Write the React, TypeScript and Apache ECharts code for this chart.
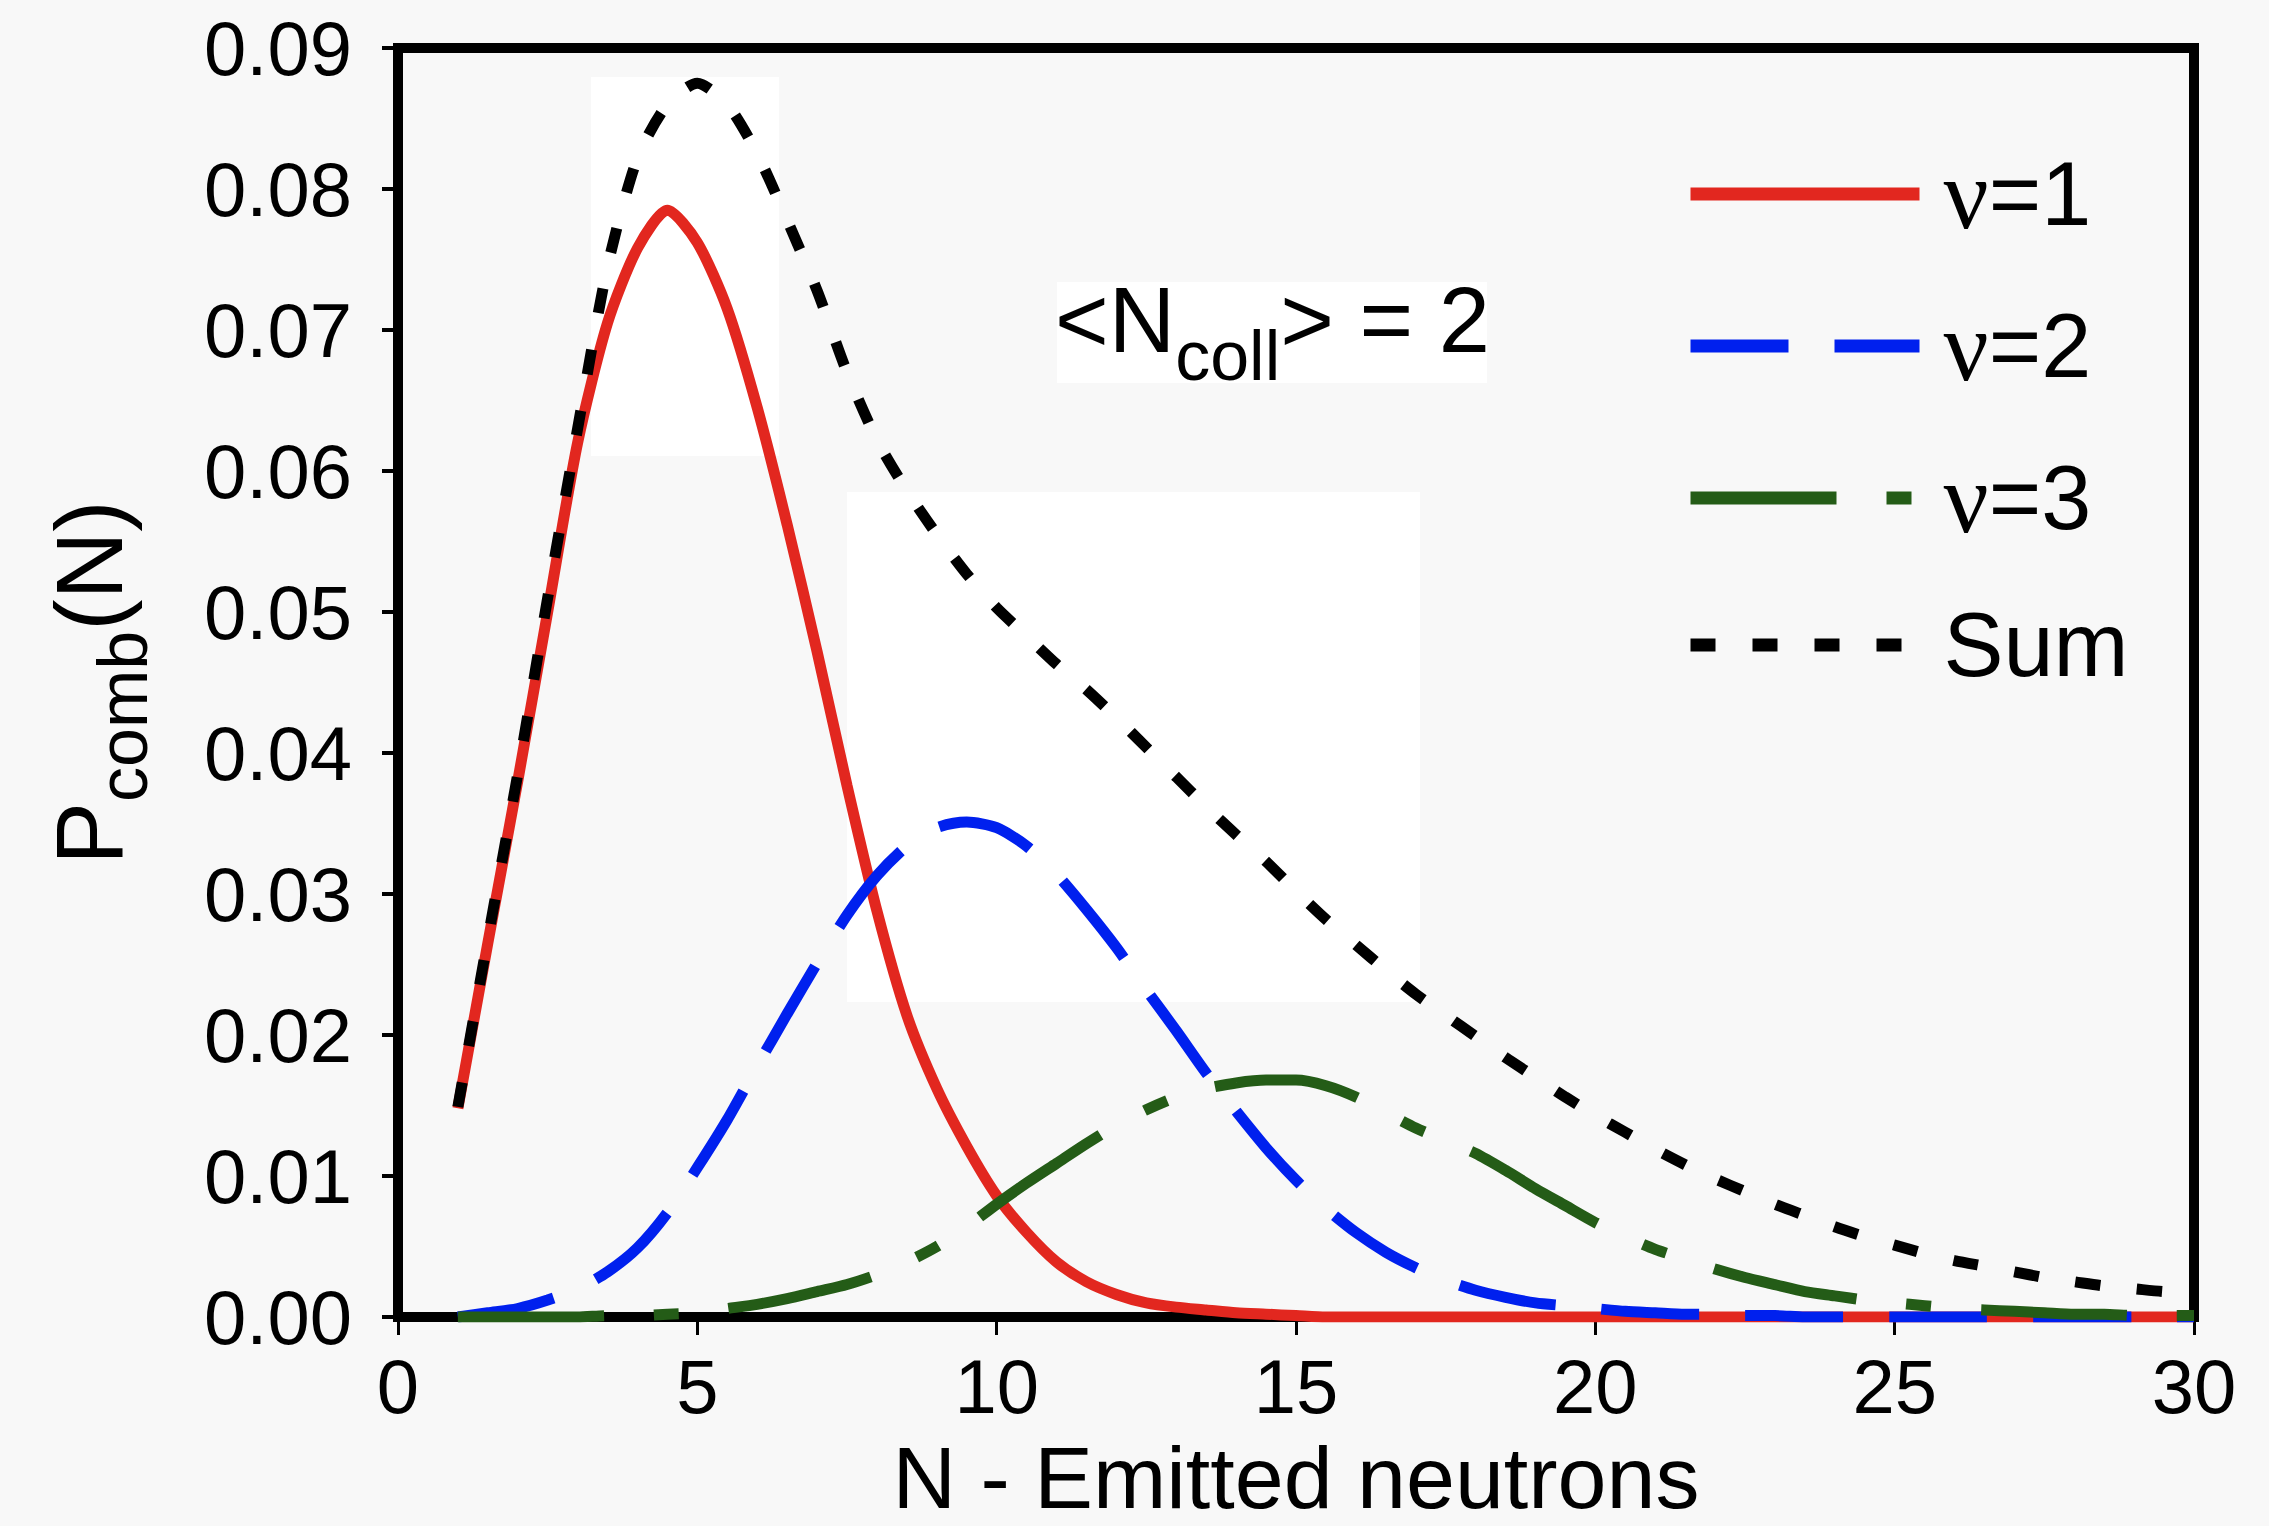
import React, { useEffect, useRef } from 'react';
import * as echarts from 'echarts';

const FONT = '"Liberation Sans", Arial, Helvetica, sans-serif';

// Number of emitted neutrons N
const nValues = [
  1, 1.5, 2, 2.5, 3, 3.5, 4, 4.5, 5, 5.5, 6, 6.5, 7, 7.5, 8, 8.5, 9, 9.5, 10, 10.5,
  11, 11.5, 12, 12.5, 13, 13.5, 14, 14.5, 15, 15.5, 16, 16.5, 17, 17.5, 18, 18.5, 19, 19.5, 20, 20.5,
  21, 21.5, 22, 22.5, 23, 23.5, 24, 24.5, 25, 25.5, 26, 26.5, 27, 27.5, 28, 28.5, 29, 29.5, 30,
];

// nu = 1
const nu1 = [
  0.0148, 0.0265, 0.038, 0.05, 0.062, 0.0705, 0.0758, 0.0785, 0.0762, 0.0715, 0.0645, 0.0562, 0.0472, 0.0377, 0.0288, 0.0214, 0.0162, 0.0121, 0.0086, 0.006,
  0.0039, 0.0025, 0.0016, 0.001, 0.0007, 0.0005, 0.0003, 0.0002, 0.0001, 0, 0, 0, 0, 0, 0, 0, 0, 0, 0, 0,
  0, 0, 0, 0, 0, 0, 0, 0, 0, 0, 0, 0, 0, 0, 0, 0, 0, 0, 0,
];

// nu = 2
const nu2 = [
  0.0, 0.0003, 0.0006, 0.0012, 0.002, 0.0032, 0.0049, 0.0074, 0.0106, 0.014, 0.0178, 0.0215, 0.0251, 0.0285, 0.0313, 0.0334, 0.0347, 0.0351, 0.0347, 0.0334,
  0.0314, 0.0289, 0.0262, 0.0232, 0.0203, 0.0173, 0.0146, 0.012, 0.0097, 0.0077, 0.006, 0.0046, 0.0035, 0.0026, 0.0019, 0.0014, 0.001, 0.0008, 0.0006, 0.0004,
  0.0003, 0.0002, 0.0002, 0.0001, 0.0001, 0, 0, 0, 0, 0, 0, 0, 0, 0, 0, 0, 0, 0, 0,
];

// nu = 3
const nu3 = [
  0, 0, 0, 0, 0, 0.0001, 0.0001, 0.0002, 0.0003, 0.0006, 0.0009, 0.0013, 0.0018, 0.0023, 0.003, 0.0039, 0.005, 0.0064, 0.008, 0.0095,
  0.0109, 0.0123, 0.0136, 0.0147, 0.0156, 0.0162, 0.0166, 0.0168, 0.0168, 0.0164, 0.0156, 0.0145, 0.0134, 0.0125, 0.0116, 0.0104, 0.0091, 0.0079, 0.0067, 0.0057,
  0.0048, 0.0041, 0.0034, 0.0028, 0.0023, 0.0018, 0.0015, 0.0012, 0.001, 0.0008, 0.0006, 0.0005, 0.0004, 0.0003, 0.0002, 0.0002, 0.0001, 0.0001, 0.0001,
];

// Sum
const sumValues = [
  0.0149, 0.0268, 0.0385, 0.051, 0.063, 0.0745, 0.0822, 0.086, 0.0875, 0.086, 0.0825, 0.0778, 0.0728, 0.067, 0.0622, 0.0586, 0.0555, 0.0527, 0.0503, 0.0483,
  0.0463, 0.0445, 0.0425, 0.0404, 0.0383, 0.0362, 0.0342, 0.0323, 0.0302, 0.0282, 0.0264, 0.0246, 0.0229, 0.0214, 0.0199, 0.0184, 0.017, 0.0156, 0.0143, 0.0131,
  0.0119, 0.0108, 0.0098, 0.0089, 0.008, 0.0072, 0.0064, 0.0057, 0.0051, 0.0045, 0.004, 0.0036, 0.0032, 0.0028, 0.0025, 0.0022, 0.002, 0.0018, 0.0017,
];

const seriesNames = ['ν=1', 'ν=2', 'ν=3', 'Sum'];
const seriesColors = ['#e2271f', '#0020ee', '#245c17', '#000000'];
const seriesDashes: (number[] | 'solid')[] = ['solid', [98, 46], [146, 50, 25, 50], [25, 37]];
const seriesData = [nu1, nu2, nu3, sumValues];

const xTicks = { min: 0, max: 30, interval: 5 };
const yTicks = { min: 0, max: 0.09, interval: 0.01 };

export default function App() {
  const ref = useRef<HTMLDivElement>(null);

  useEffect(() => {
    document.body.style.margin = '0';
    const chart = echarts.init(ref.current!, null, { renderer: 'svg' });

    const series = seriesData.map((vals, i) => ({
      name: seriesNames[i],
      type: 'line',
      data: nValues.map((n, k) => [n, vals[k]]),
      symbol: 'none',
      smooth: 0.25,
      z: 3 + i,
      lineStyle: {
        color: seriesColors[i],
        width: 11,
        type: seriesDashes[i],
        cap: 'butt',
      },
      itemStyle: { color: seriesColors[i] },
    }));

    const option: any = {
      animation: false,
      backgroundColor: '#f8f8f8',
      grid: {
        left: 398,
        right: 75,
        top: 48,
        bottom: 209,
        show: true,
        borderColor: '#000',
        borderWidth: 10,
        backgroundColor: 'transparent',
        containLabel: false,
        outerBoundsMode: 'none',
      },
      legend: {
        orient: 'vertical',
        left: 1684,
        top: 144,
        padding: 0,
        itemWidth: 229,
        itemHeight: 14,
        itemGap: 52,
        selectedMode: false,
        data: seriesNames,
        lineStyle: { width: 13 },
        itemStyle: { opacity: 0 },
        formatter: (name: string) =>
          name.startsWith('ν') ? '{sp|}{g|ν}' + name.slice(1) : '{sp|}' + name,
        textStyle: {
          fontSize: 90,
          fontFamily: FONT,
          color: '#000',
          rich: {
            sp: { width: 19 },
            g: { fontFamily: '"Liberation Serif", "DejaVu Serif", serif', fontSize: 100, color: '#000' },
          },
        },
      },
      xAxis: {
        type: 'value',
        ...xTicks,
        axisLine: { show: true, onZero: false, lineStyle: { color: '#000', width: 10 } },
        axisTick: { show: true, inside: false, length: 18, lineStyle: { color: '#000', width: 3 } },
        axisLabel: { fontSize: 76, color: '#000', fontFamily: FONT, margin: 31 },
        splitLine: { show: false },
        name: 'N - Emitted neutrons',
        nameLocation: 'middle',
        nameGap: 116,
        nameMoveOverlap: false,
        nameTextStyle: { fontSize: 88, color: '#000', fontFamily: FONT },
      },
      yAxis: {
        type: 'value',
        ...yTicks,
        axisLine: { show: true, onZero: false, lineStyle: { color: '#000', width: 10 } },
        axisTick: { show: true, inside: false, length: 16, lineStyle: { color: '#000', width: 4 } },
        axisLabel: {
          fontSize: 76,
          color: '#000',
          fontFamily: FONT,
          margin: 46,
          formatter: (v: number) => v.toFixed(2),
        },
        splitLine: { show: false },
        name: '{m|P}{s|comb}{m|(N)}',
        nameLocation: 'middle',
        nameRotate: 90,
        nameGap: 262,
        nameMoveOverlap: false,
        nameTextStyle: {
          fontSize: 94,
          color: '#000',
          fontFamily: FONT,
          rich: {
            m: { fontSize: 94, lineHeight: 94, verticalAlign: 'top', fontFamily: FONT, color: '#000' },
            s: { fontSize: 70, lineHeight: 70, padding: [46, 0, 0, 0], verticalAlign: 'top', fontFamily: FONT, color: '#000' },
          },
        },
      },
      graphic: [
        { type: 'rect', z: -1, shape: { x: 591, y: 77, width: 188, height: 379 }, style: { fill: '#ffffff' }, silent: true },
        { type: 'rect', z: -1, shape: { x: 847, y: 492, width: 573, height: 510 }, style: { fill: '#ffffff' }, silent: true },
        { type: 'rect', z: -1, shape: { x: 1057, y: 282, width: 430, height: 101 }, style: { fill: '#ffffff' }, silent: true },
        {
          type: 'text',
          z: 10,
          x: 1055,
          y: 274,
          silent: true,
          style: {
            text: '{m|<N}{s|coll}{m|> = 2}',
            verticalAlign: 'top',
            fill: '#000',
            fontSize: 92,
            fontFamily: FONT,
            rich: {
              m: { fontSize: 92, lineHeight: 92, verticalAlign: 'top', fontFamily: FONT, fill: '#000' },
              s: { fontSize: 70, lineHeight: 70, padding: [47, 0, 0, 0], verticalAlign: 'top', fontFamily: FONT, fill: '#000' },
            },
          },
        },
      ],
      series,
    };

    chart.setOption(option);
    return () => chart.dispose();
  }, []);

  return (
    <div
      ref={ref}
      style={{ position: 'absolute', left: 0, top: 0, width: 2269, height: 1526 }}
    />
  );
}
